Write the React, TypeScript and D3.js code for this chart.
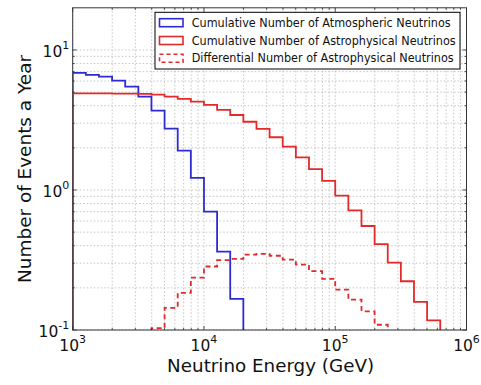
import React from 'react';
import * as d3 from 'd3';

// bin edges, as log10(E / GeV)
const binEdgeExp = [
  3.0, 3.1, 3.2, 3.3, 3.4, 3.5, 3.6, 3.7, 3.8, 3.9,
  4.0, 4.1, 4.2, 4.3, 4.4, 4.5, 4.6, 4.7, 4.8, 4.9,
  5.0, 5.1, 5.2, 5.3, 5.4, 5.5, 5.6, 5.7, 5.8, 5.9, 6.0,
];

// cumulative atmospheric, bins starting at 10^3.0
const atmosphericCumulative = [
  6.85, 6.63, 6.45, 6.04, 5.47, 4.64, 3.69, 2.74, 1.91, 1.22, 0.70, 0.363, 0.167,
];

// cumulative astrophysical, bins starting at 10^3.0
const astroCumulative = [
  4.90, 4.90, 4.89, 4.88, 4.87, 4.85, 4.80, 4.64, 4.47, 4.27,
  4.05, 3.73, 3.43, 3.07, 2.73, 2.38, 2.04, 1.71, 1.41, 1.16,
  0.91, 0.716, 0.553, 0.411, 0.303, 0.223, 0.159, 0.117,
];

// differential astrophysical, bins starting at 10^3.6
const astroDifferential = [
  0.103, 0.144, 0.184, 0.237, 0.284, 0.315, 0.322, 0.345, 0.35,
  0.339, 0.318, 0.293, 0.263, 0.232, 0.194, 0.165, 0.136, 0.109,
];

const xTickExp = [3, 4, 5, 6];
const yTickExp = [-1, 0, 1];

const legendLabels = [
  'Cumulative Number of Atmospheric Neutrinos',
  'Cumulative Number of Astrophysical Neutrinos',
  'Differential Number of Astrophysical Neutrinos',
];
const legendTextWidths = [259, 264, 262];

const W = 481;
const H = 385;
const left = 72.7;
const right = 466.5;
const top = 7.8;
const bottom = 330;

const BLUE = '#2c2cd2';
const RED = '#e22a2a';
const FONT = 'DejaVu Sans, sans-serif';

const x = d3.scaleLog().domain([1e3, 1e6]).range([left, right]);
const y = d3.scaleLog().domain([0.1, 20]).range([bottom, top]);

function stepPath(startBin: number, values: number[]) {
  const e = (i: number) => x(Math.pow(10, binEdgeExp[startBin + i]));
  let d = `M${e(0)},${bottom + 10}`;
  values.forEach((v, i) => {
    d += `L${e(i)},${y(v)}L${e(i + 1)},${y(v)}`;
  });
  d += `L${e(values.length)},${bottom + 10}`;
  return d;
}

const Pow10 = ({ px, py, exp, anchor }: { px: number; py: number; exp: number; anchor: string }) => (
  <text x={px} y={py} textAnchor={anchor} fontFamily={FONT} fontSize={15.5} fill="#111">
    10<tspan dy={-8} fontSize={11}>{exp < 0 ? `-${-exp}` : exp}</tspan>
  </text>
);

export default function App() {
  const xMinor: number[] = [];
  const yMinor: number[] = [];
  for (let k = 3; k < 6; k++) for (let m = 2; m <= 9; m++) xMinor.push(m * Math.pow(10, k));
  for (let k = -1; k < 2; k++) for (let m = 2; m <= 9; m++) {
    const v = m * Math.pow(10, k);
    if (v < 20) yMinor.push(v);
  }
  const xMajor = xTickExp.map(k => Math.pow(10, k));
  const yMajor = yTickExp.map(k => Math.pow(10, k));

  const series = [
    { d: stepPath(0, atmosphericCumulative), color: BLUE, dash: undefined },
    { d: stepPath(0, astroCumulative), color: RED, dash: undefined },
    { d: stepPath(6, astroDifferential), color: RED, dash: '5,3.5' },
  ];

  const legendX = 155;
  const legendY = 12.3;
  const rowYs = [22.7, 40.5, 58.2];

  return (
    <div style={{ position: 'absolute', left: 0, top: 0 }}>
      <svg width={W} height={H} style={{ display: 'block', background: '#fff' }}>
        <defs>
          <clipPath id="plot">
            <rect x={left} y={top} width={right - left} height={bottom - top} />
          </clipPath>
        </defs>

        {/* grid */}
        <g stroke="#b8b8b8" strokeWidth={0.8} strokeDasharray="1.5,2">
          {[...xMinor, ...xMajor].map((v, i) => (
            <line key={'gx' + i} x1={x(v)} x2={x(v)} y1={top} y2={bottom} />
          ))}
          {[...yMinor, ...yMajor].map((v, i) => (
            <line key={'gy' + i} x1={left} x2={right} y1={y(v)} y2={y(v)} />
          ))}
        </g>

        {/* steps */}
        <g clipPath="url(#plot)" fill="none">
          {series.map((s, i) => (
            <path key={i} d={s.d} stroke={s.color} strokeWidth={1.8} strokeDasharray={s.dash} strokeLinejoin="miter" />
          ))}
        </g>

        {/* ticks */}
        <g stroke="#222" strokeWidth={0.8}>
          {xMajor.map((v, i) => (
            <g key={'tx' + i}>
              <line x1={x(v)} x2={x(v)} y1={bottom} y2={bottom - 4} />
              <line x1={x(v)} x2={x(v)} y1={top} y2={top + 4} />
            </g>
          ))}
          {xMinor.map((v, i) => (
            <g key={'mx' + i}>
              <line x1={x(v)} x2={x(v)} y1={bottom} y2={bottom - 2} />
              <line x1={x(v)} x2={x(v)} y1={top} y2={top + 2} />
            </g>
          ))}
          {yMajor.map((v, i) => (
            <g key={'ty' + i}>
              <line x1={left} x2={left + 4} y1={y(v)} y2={y(v)} />
              <line x1={right} x2={right - 4} y1={y(v)} y2={y(v)} />
            </g>
          ))}
          {yMinor.map((v, i) => (
            <g key={'my' + i}>
              <line x1={left} x2={left + 2} y1={y(v)} y2={y(v)} />
              <line x1={right} x2={right - 2} y1={y(v)} y2={y(v)} />
            </g>
          ))}
        </g>

        {/* frame */}
        <rect x={left} y={top} width={right - left} height={bottom - top} fill="none" stroke="#333" strokeWidth={1} />

        {/* tick labels */}
        {xTickExp.map(k => (
          <Pow10 key={'lx' + k} px={x(Math.pow(10, k))} py={bottom + 21} exp={k} anchor="middle" />
        ))}
        {yTickExp.map(k => (
          <Pow10 key={'ly' + k} px={left - 3.4} py={y(Math.pow(10, k)) + 7} exp={k} anchor="end" />
        ))}

        {/* axis titles */}
        <text
          x={(left + right) / 2 + 1}
          y={372}
          textAnchor="middle"
          fontFamily={FONT}
          fontSize={17.5}
          fill="#111"
          textLength={207}
          lengthAdjust="spacingAndGlyphs"
        >
          Neutrino Energy (GeV)
        </text>
        <text
          transform={`translate(31,169) rotate(-90)`}
          textAnchor="middle"
          fontFamily={FONT}
          fontSize={17.5}
          fill="#111"
          textLength={228}
          lengthAdjust="spacingAndGlyphs"
        >
          Number of Events a Year
        </text>

        {/* legend */}
        <g>
          <rect x={legendX} y={legendY} width={305} height={56.7} fill="#fff" stroke="#000" strokeWidth={1} />
          {legendLabels.map((label, i) => (
            <g key={label}>
              <rect
                x={legendX + 4.5}
                y={rowYs[i] - 4}
                width={23.5}
                height={8}
                fill="none"
                stroke={i === 0 ? BLUE : RED}
                strokeWidth={1.6}
                strokeDasharray={i === 2 ? '4,3' : undefined}
              />
              <text
                x={legendX + 36.7}
                y={rowYs[i] + 4.2}
                fontFamily={FONT}
                fontSize={11.5}
                fill="#111"
                textLength={legendTextWidths[i]}
                lengthAdjust="spacingAndGlyphs"
              >
                {label}
              </text>
            </g>
          ))}
        </g>
      </svg>
    </div>
  );
}
